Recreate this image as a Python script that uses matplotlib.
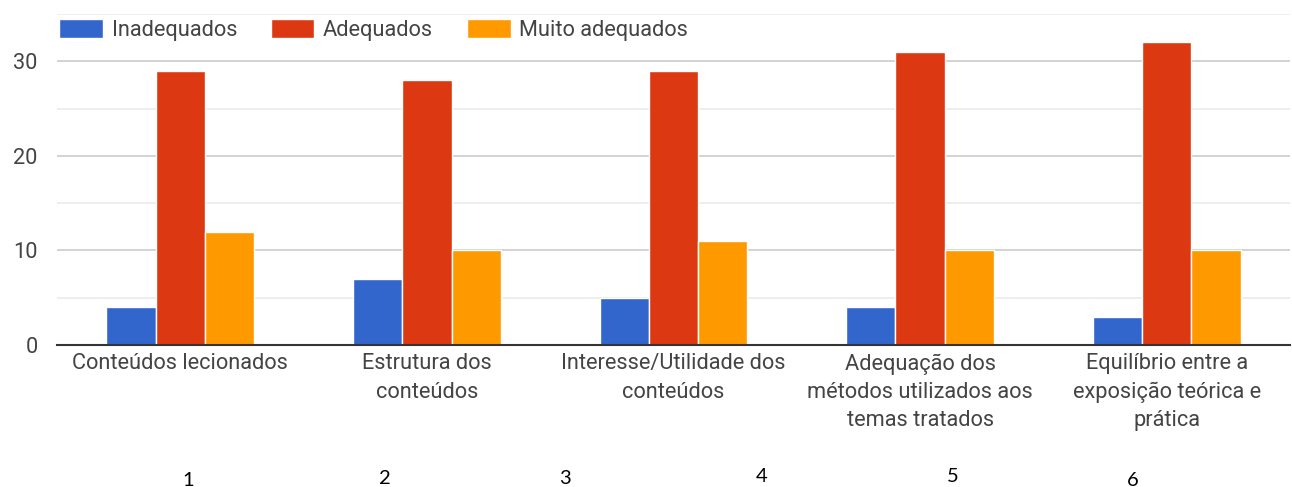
import matplotlib
matplotlib.use("Agg")
import matplotlib.pyplot as plt
import numpy as np

categories = [
    "Conteúdos lecionados",
    "Estrutura dos\nconteúdos",
    "Interesse/Utilidade dos\nconteúdos",
    "Adequação dos\nmétodos utilizados aos\ntemas tratados",
    "Equilíbrio entre a\nexposição teórica e\nprática",
]
series_names = ["Inadequados", "Adequados", "Muito adequados"]
inadequados = [4, 7, 5, 4, 3]
adequados = [29, 28, 29, 31, 32]
muito_adequados = [12, 10, 11, 10, 10]
colors = ["#3366cc", "#dc3912", "#ff9900"]

# numbers typed under the chart
footer_numbers = ["1", "2", "3", "4", "5", "6"]
footer_x = [188, 385, 565, 762, 953, 1133]
footer_y = [481, 478, 479, 476, 476, 480]

plt.rcParams["font.family"] = ["Roboto", "DejaVu Sans"]
fs = 15.7

fig = plt.figure(figsize=(12.92, 4.87), dpi=100)
ax = fig.add_axes([57 / 1292, 1 - 345 / 487, (1290 - 57) / 1292, (345 - 14) / 487])

x = np.arange(len(categories))
width = 0.2
for i, (vals, name) in enumerate(zip([inadequados, adequados, muito_adequados], series_names)):
    ax.bar(x + (i - 1) * width, vals, width, color=colors[i], label=name,
           edgecolor="white", linewidth=1, zorder=3)

ax.set_xlim(-0.5, len(categories) - 0.5)
ax.set_ylim(0, 35)
ax.set_yticks([0, 10, 20, 30])
ax.set_yticks([5, 15, 25, 35], minor=True)
ax.grid(axis="y", which="major", color="#cccccc", linewidth=1.2, zorder=0)
ax.grid(axis="y", which="minor", color="#ebebeb", linewidth=1.2, zorder=0)
ax.set_xticks(x)
ax.set_xticklabels(categories, linespacing=1.45)
ax.tick_params(axis="y", which="both", length=0, pad=14, labelsize=fs, labelcolor="#444444")
ax.tick_params(axis="x", length=0, pad=6, labelsize=fs, labelcolor="#444444")
for s in ["top", "right", "left"]:
    ax.spines[s].set_visible(False)
ax.spines["bottom"].set_color("#333333")
ax.spines["bottom"].set_linewidth(1.5)
ax.spines["bottom"].set_zorder(4)

leg = ax.legend(loc="upper left", bbox_to_anchor=(0, 0.99), ncol=3, frameon=True,
                fontsize=fs, handlelength=2.0, handleheight=0.95, handletextpad=0.4,
                columnspacing=1.55, borderaxespad=0, borderpad=0.1)
leg.get_frame().set_facecolor("white")
leg.get_frame().set_edgecolor("none")
for t in leg.get_texts():
    t.set_color("#444444")

for num, fx, fy in zip(footer_numbers, footer_x, footer_y):
    fig.text(fx / 1292, 1 - fy / 487, num, ha="center", va="center",
             fontsize=14.5, family=["Lato", "DejaVu Sans"], color="black")

fig.savefig("out.png", dpi=100)
